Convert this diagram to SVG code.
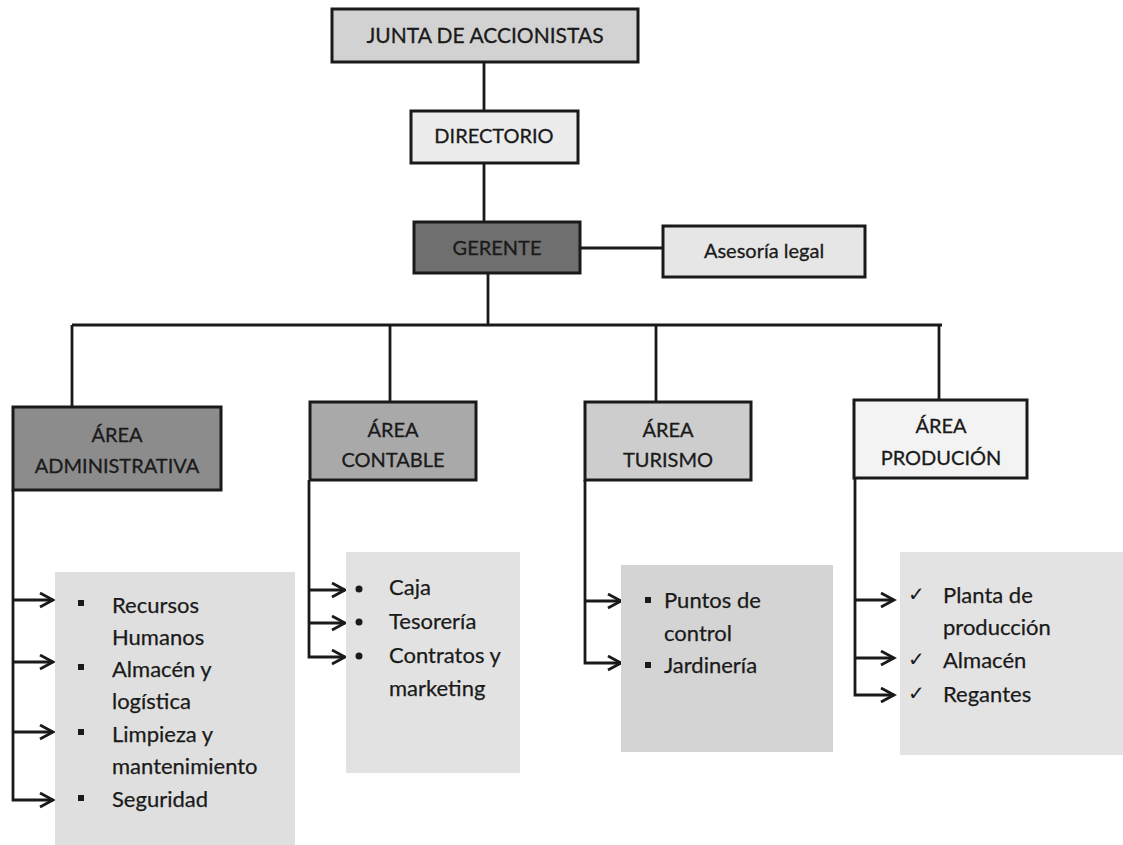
<svg xmlns="http://www.w3.org/2000/svg" width="1123" height="845" viewBox="0 0 1123 845">
<style>
.box{stroke:#1a1a1a;stroke-width:3}
.lbl{font-family:Lato,"Liberation Sans",sans-serif;font-size:20px;fill:#1a1a1a;stroke:#1a1a1a;stroke-width:0.3;text-anchor:middle}
.big{font-size:21px}
.item{font-family:Lato,"Liberation Sans",sans-serif;font-size:22px;fill:#1a1a1a;stroke:#1a1a1a;stroke-width:0.25}
.ln{fill:none;stroke:#1a1a1a;stroke-width:2.8}
.arr{fill:none;stroke:#1a1a1a;stroke-width:2.8;marker-end:url(#chev)}
.sq{fill:#1a1a1a}
.chk{font-family:"DejaVu Sans",sans-serif;font-size:20px;fill:#1a1a1a}
</style>
<defs>
<marker id="chev" markerUnits="userSpaceOnUse" markerWidth="18" markerHeight="18" refX="14" refY="8" orient="auto">
<path d="M1,1 L14,8 L1,15" fill="none" stroke="#1a1a1a" stroke-width="2.8"/>
</marker>
</defs>
<rect width="1123" height="845" fill="#ffffff"/>
<g id="connectors">
<path class="ln" d="M484,62 V111"/>
<path class="ln" d="M484,163 V222"/>
<path class="ln" d="M580,248 H663"/>
<path class="ln" d="M488,273 V325"/>
<path class="ln" d="M72,325 H942"/>
<path class="ln" d="M72,325 V407"/>
<path class="ln" d="M390,325 V402"/>
<path class="ln" d="M656,325 V402"/>
<path class="ln" d="M939,325 V400"/>
<path class="arr" d="M13,490 V800 H53"/>
<path class="arr" d="M13,600 H53"/>
<path class="arr" d="M13,662 H53"/>
<path class="arr" d="M13,732 H53"/>
<path class="arr" d="M309,480 V657 H345"/>
<path class="arr" d="M309,590 H345"/>
<path class="arr" d="M309,623 H345"/>
<path class="arr" d="M585,480 V663 H621"/>
<path class="arr" d="M585,601 H621"/>
<path class="arr" d="M855,478 V695 H894"/>
<path class="arr" d="M855,600 H894"/>
<path class="arr" d="M855,658 H894"/>
</g>
<g id="junta">
<rect class="box" x="332" y="9" width="306" height="53" fill="#d2d2d2"/>
<text class="lbl big" x="485" y="43">JUNTA DE ACCIONISTAS</text>
</g>
<g id="directorio">
<rect class="box" x="411" y="111" width="167" height="52" fill="#ececec"/>
<text class="lbl" x="494" y="143">DIRECTORIO</text>
</g>
<g id="gerente">
<rect class="box" x="414" y="222" width="166" height="51" fill="#6f6f6f"/>
<text class="lbl" x="497" y="255">GERENTE</text>
</g>
<g id="asesoria">
<rect class="box" x="663" y="226" width="202" height="51" fill="#e6e6e6"/>
<text class="lbl" x="764" y="258">Asesoría legal</text>
</g>
<g id="area-administrativa">
<rect class="box" x="13" y="407" width="208" height="83" fill="#8c8c8c"/>
<text class="lbl" x="117" y="442">ÁREA</text>
<text class="lbl" x="117" y="473">ADMINISTRATIVA</text>
</g>
<g id="area-contable">
<rect class="box" x="310" y="402" width="166" height="78" fill="#a9a9a9"/>
<text class="lbl" x="393" y="437">ÁREA</text>
<text class="lbl" x="393" y="467">CONTABLE</text>
</g>
<g id="area-turismo">
<rect class="box" x="585" y="402" width="166" height="78" fill="#cdcdcd"/>
<text class="lbl" x="668" y="437">ÁREA</text>
<text class="lbl" x="668" y="467">TURISMO</text>
</g>
<g id="area-produccion">
<rect class="box" x="854" y="400" width="173" height="78" fill="#f3f3f3"/>
<text class="lbl" x="941" y="433">ÁREA</text>
<text class="lbl" x="941" y="465">PRODUCIÓN</text>
</g>
<g id="lista-administrativa">
<rect x="55" y="572" width="240" height="273" fill="#dfdfdf"/>
<rect class="sq" x="78" y="600" width="6" height="6"/>
<rect class="sq" x="78" y="664" width="6" height="6"/>
<rect class="sq" x="78" y="729" width="6" height="6"/>
<rect class="sq" x="78" y="795" width="6" height="6"/>
<text class="item" x="112" y="613">Recursos</text>
<text class="item" x="112" y="645">Humanos</text>
<text class="item" x="112" y="677">Almacén y</text>
<text class="item" x="112" y="709">logística</text>
<text class="item" x="112" y="742">Limpieza y</text>
<text class="item" x="112" y="774">mantenimiento</text>
<text class="item" x="112" y="807">Seguridad</text>
</g>
<g id="lista-contable">
<rect x="346" y="552" width="174" height="221" fill="#e2e2e2"/>
<circle class="sq" cx="359" cy="589" r="3.5"/>
<circle class="sq" cx="359" cy="622" r="3.5"/>
<circle class="sq" cx="359" cy="656" r="3.5"/>
<text class="item" x="389" y="595">Caja</text>
<text class="item" x="389" y="629">Tesorería</text>
<text class="item" x="389" y="663">Contratos y</text>
<text class="item" x="389" y="696">marketing</text>
</g>
<g id="lista-turismo">
<rect x="621" y="565" width="212" height="187" fill="#d4d4d4"/>
<rect class="sq" x="645" y="597" width="6" height="6"/>
<rect class="sq" x="645" y="662" width="6" height="6"/>
<text class="item" x="664" y="608">Puntos de</text>
<text class="item" x="664" y="641">control</text>
<text class="item" x="664" y="673">Jardinería</text>
</g>
<g id="lista-produccion">
<rect x="900" y="552" width="223" height="203" fill="#e3e3e3"/>
<text class="chk" x="908" y="601">✓</text>
<text class="chk" x="908" y="666">✓</text>
<text class="chk" x="908" y="700">✓</text>
<text class="item" x="943" y="603">Planta de</text>
<text class="item" x="943" y="635">producción</text>
<text class="item" x="943" y="668">Almacén</text>
<text class="item" x="943" y="702">Regantes</text>
</g>
</svg>
